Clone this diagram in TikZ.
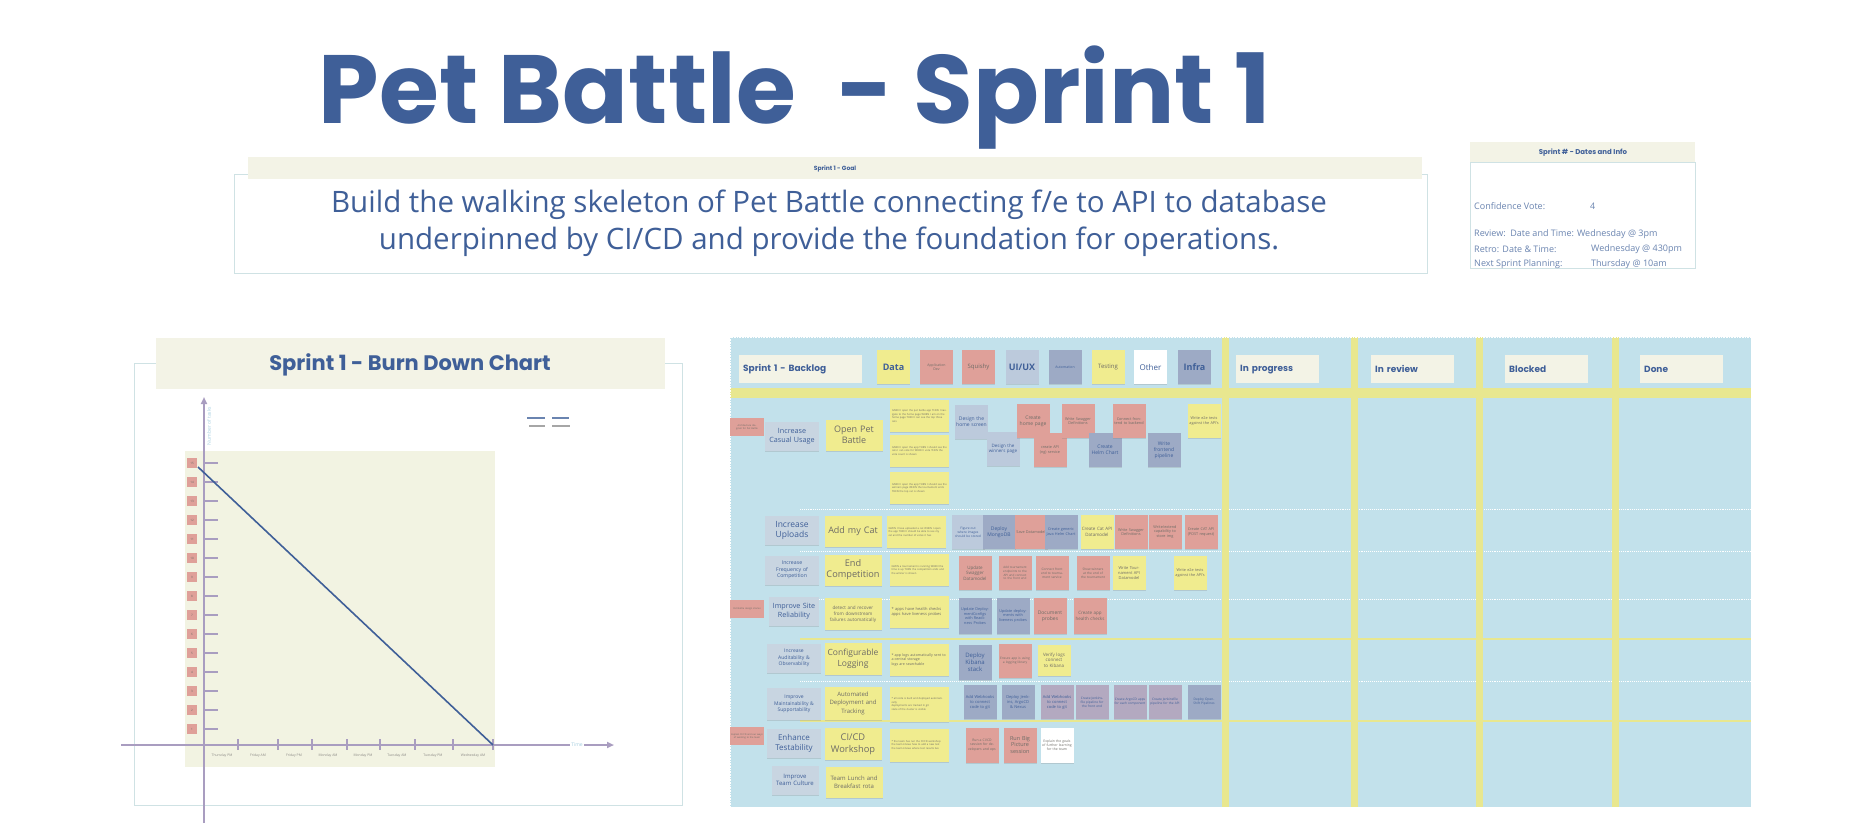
\documentclass[tikz,border=0pt]{standalone}
\usepackage{fontspec}
\setmainfont{Open Sans}
\newfontfamily\headfont{Poppins}
\usetikzlibrary{arrows.meta, shadows}
\definecolor{PBBlue}{HTML}{3F5F98}
\definecolor{PBYellow}{HTML}{F0EC8F}
\definecolor{PBPink}{HTML}{DFA099}
\definecolor{PBSlate}{HTML}{9DAAC5}
\definecolor{PBLight}{HTML}{BCCADC}
\definecolor{PBMauve}{HTML}{B3A9C0}
\definecolor{PBGoal}{HTML}{C8D5E1}
\definecolor{PBBoard}{HTML}{C2E1EB}
\definecolor{PBBand}{HTML}{E8E78F}
\definecolor{PBCream}{HTML}{F3F3E6}
\definecolor{PBPlot}{HTML}{F2F3E2}
\definecolor{PBAxis}{HTML}{A99DC0}
\definecolor{PBFrame}{HTML}{CFE2E4}
\definecolor{PBInfo}{HTML}{6A84B0}
\definecolor{PBNoteText}{HTML}{6E6C66}
\definecolor{PBAxisText}{HTML}{A6CFE0}
\newcommand{\pbfont}[2]{\fontsize{#1}{#2}\selectfont}
\tikzset{
    note/.style={
        fill=#1,
        minimum width=33pt,
        minimum height=34pt,
        inner sep=1pt,
        text width=31pt,
        align=center,
        font=\pbfont{3.8}{4.6},
        text=PBNoteText,
        drop shadow={opacity=0.25, shadow xshift=0pt, shadow yshift=-1.2pt}
    },
    note/.default=PBYellow,
    goalnote/.style={
        fill=PBGoal,
        minimum width=54pt,
        minimum height=29pt,
        inner sep=1pt,
        text width=52pt,
        align=center,
        text=PBBlue,
        drop shadow={opacity=0.25, shadow xshift=0pt, shadow yshift=-1.2pt}
    },
    featnote/.style={
        fill=PBYellow,
        minimum width=57pt,
        minimum height=31pt,
        inner sep=1pt,
        text width=55pt,
        align=center,
        text=PBNoteText,
        drop shadow={opacity=0.25, shadow xshift=0pt, shadow yshift=-1.2pt}
    },
    accnote/.style={
        fill=PBYellow,
        minimum width=59pt,
        minimum height=32pt,
        inner sep=2pt,
        text width=55pt,
        align=left,
        font=\pbfont{2.6}{3.4},
        text=PBNoteText,
        drop shadow={opacity=0.25, shadow xshift=0pt, shadow yshift=-1.2pt}
    },
    smallnote/.style={
        fill=PBPink,
        minimum width=34pt,
        minimum height=18pt,
        inner sep=1pt,
        text width=32pt,
        align=center,
        font=\pbfont{2.4}{3},
        text=PBNoteText
    },
    colhead/.style={
        fill=PBCream,
        minimum height=28pt,
        inner xsep=4pt,
        inner ysep=0pt,
        text width=75pt,
        align=left,
        anchor=north west,
        font=\headfont\bfseries\pbfont{9}{10},
        text=PBBlue
    },
    chip/.style={
        fill=#1,
        minimum width=33pt,
        minimum height=34pt,
        inner sep=1pt,
        text width=31pt,
        align=center,
        drop shadow={opacity=0.25, shadow xshift=0pt, shadow yshift=-1.2pt}
    },
    infotext/.style={
        font=\pbfont{9}{10},
        text=PBInfo,
        anchor=west,
        inner sep=0pt
    },
    axis/.style={
        PBAxis,
        line width=1.8pt
    },
    axislabel/.style={
        font=\pbfont{5}{6},
        text=PBAxisText,
        inner sep=1pt
    },
    ticklabel/.style={
        font=\pbfont{3.4}{4},
        text=PBNoteText!80,
        inner sep=0pt
    },
    ylabel/.style={
        fill=PBPink,
        minimum size=10pt,
        inner sep=0pt,
        font=\pbfont{3}{3.5},
        text=PBNoteText
    }
}
\begin{document}
\begin{tikzpicture}[x=1pt, y=-1pt]
    \useasboundingbox (0,0) rectangle (1872,827);

    % Title
    \node[font=\headfont\bfseries\pbfont{97}{110}, text=PBBlue, anchor=base] (title) at (795,123) {Pet Battle~ - Sprint 1};

    % Sprint goal
    \node[draw=PBFrame, line width=0.8pt, fill=white, minimum width=1193pt, minimum height=99pt, anchor=north west] (goalbox) at (234,174) {};
    \node[fill=PBCream, inner sep=0pt, minimum width=1174pt, minimum height=22pt, anchor=north west] (goalband) at (248,157) {};
    \node[font=\headfont\bfseries\pbfont{6}{7}, text=PBBlue] (goaltitle) at (835,169) {Sprint 1 - Goal};
    \node[font=\pbfont{29.5}{37}, text=PBBlue, align=center] (goaltext) at (829,223) {Build the walking skeleton of Pet Battle connecting f/e to API to database\\underpinned by CI/CD and provide the foundation for operations.};

    % Dates and info
    \node[draw=PBFrame, line width=0.6pt, fill=white, minimum width=225pt, minimum height=106pt, anchor=north west] (infobox) at (1470,162) {};
    \node[fill=PBCream, inner sep=0pt, minimum width=225pt, minimum height=20pt, anchor=north west] (infoband) at (1470,142) {};
    \node[font=\headfont\bfseries\pbfont{7}{8}, text=PBBlue] (infotitle) at (1583,153) {Sprint \# - Dates and Info};
    \node[infotext] (vote) at (1474,206) {Confidence Vote:};
    \node[infotext] (votenum) at (1590,206) {4};
    \node[infotext] (review) at (1474,234) {Review:\ \ Date and Time: Wednesday @ 3pm};
    \node[infotext] (retro) at (1474,249) {Retro: Date \& Time:};
    \node[infotext] (retrotime) at (1591,249) {Wednesday @ 430pm};
    \node[infotext] (next) at (1474,264) {Next Sprint Planning:};
    \node[infotext] (nexttime) at (1591,264) {Thursday @ 10am};

    % Burn down chart
    \draw[PBFrame, line width=0.8pt] (134,363) rectangle (682,805);
    \node[fill=PBCream, inner sep=0pt, minimum width=509pt, minimum height=51pt, anchor=north west] (chartband) at (156,338) {};
    \node[font=\headfont\bfseries\pbfont{21}{24}, text=PBBlue] (charttitle) at (410,365) {Sprint 1 - Burn Down Chart};
    \fill[PBPlot] (185,451) rectangle (495,767);
    \draw[axis, -{Triangle[length=7pt, width=6pt]}] (204,823) -- (204,397);
    \draw[axis, -{Triangle[length=7pt, width=6pt]}] (121,745) -- (614,745);
    \node[axislabel, fill=white] (timelabel) at (577,745) {Time};
    \node[axislabel, rotate=90] (tasklabel) at (209,426) {Number of tasks};
    \foreach \n in {1,...,15} {
        \pgfmathsetmacro{\yy}{729-19*(\n-1)}
        \draw[axis, line width=1.4pt] (204,\yy) -- (218,\yy);
        \node[ylabel] (ylab\n) at (192,\yy) {\n};
    }
    \foreach \xx in {238,278,312,347,380,415,453,493}
        \draw[axis, line width=1.4pt] (\xx,739) -- (\xx,750);
    \foreach \xx/\day [count=\i] in {222/Thursday PM, 258/Friday AM, 294/Friday PM, 328/Monday AM, 363/Monday PM, 397/Tuesday AM, 433/Tuesday PM, 473/Wednesday AM}
        \node[ticklabel] (day\i) at (\xx,756) {\day};
    \draw[PBBlue, line width=1.6pt] (198,467) -- (493,745);
    % legend
    \draw[PBInfo, line width=1.6pt] (527,418) -- (545,418) (552,418) -- (569,418);
    \draw[gray!70, line width=1.6pt] (529,426) -- (545,426) (552,426) -- (570,426);

    % Backlog board
    \fill[PBBoard] (730,337) rectangle (1751,807);
    \fill[PBBand] (730,388) rectangle (1751,398);
    \foreach \yy in {509,551,599,681}
        \draw[white, densely dotted, line width=0.9pt] (800,\yy) -- (1751,\yy);
    \foreach \yy in {639,721}
        \draw[PBBand, line width=1.2pt] (800,\yy) -- (1751,\yy);
    \foreach \xx in {1222,1351,1476,1612}
        \fill[PBBand] (\xx,337) rectangle ++(7,470);
    \draw[white, densely dotted, line width=0.6pt] (730,337) rectangle (1751,807);

    % Column headers
    \node[colhead, text width=115pt] (backlog) at (739,355) {Sprint 1 - Backlog};
    \node[colhead] (inprogress) at (1236,355) {In progress};
    \node[colhead] (inreview) at (1371,355) {In review};
    \node[colhead] (blocked) at (1505,355) {Blocked};
    \node[colhead] (done) at (1640,355) {Done};

    % Categories
    \node[chip=PBYellow, font=\bfseries\pbfont{9}{10}, text=PBBlue] (data) at (893.5,367) {Data};
    \node[chip=PBPink, font=\pbfont{3.5}{4.2}, text=PBNoteText] (appdev) at (936.5,367) {Application\\Dev};
    \node[chip=PBPink, font=\pbfont{6}{7}, text=PBNoteText] (squishy) at (978.5,367) {Squishy};
    \node[chip=PBLight, font=\bfseries\pbfont{9}{10}, text=PBBlue] (uiux) at (1022,367) {UI/UX};
    \node[chip=PBSlate, font=\pbfont{3.5}{4.2}, text=PBBlue] (automation) at (1065,367) {Automation};
    \node[chip=PBYellow, font=\pbfont{6}{7}, text=PBNoteText] (testing) at (1108,367) {Testing};
    \node[chip=white, font=\pbfont{8}{9}, text=PBBlue] (other) at (1150.5,367) {Other};
    \node[chip=PBSlate, font=\bfseries\pbfont{9}{10}, text=PBBlue] (infra) at (1194.5,367) {Infra};

    % Row 1
    \node[smallnote] (note1) at (747,427) {Architecture diagram for Pet Battle};
    \node[goalnote, font=\pbfont{7.2}{9}] (casual) at (792,436) {Increase\\Casual Usage};
    \node[featnote, font=\pbfont{9}{11}] (openpb) at (854,435) {Open Pet\\Battle};
    \node[accnote] (acc1a) at (919.5,416) {GIVEN I open the pet battle app THEN I navigate to the home page WHEN I am on the home page THEN I can see the top three cats};
    \node[accnote] (acc1b) at (919.5,451) {GIVEN I open the app THEN I should see the cats I can vote for WHEN I vote THEN the vote count is shown};
    \node[accnote] (acc1c) at (919.5,488) {GIVEN I open the app THEN I should see the winners page WHEN the tournament ends THEN the top cat is shown};
    \node[note=PBLight, text=PBBlue, font=\pbfont{5}{6}] (homescreen) at (971.5,422) {Design the home screen};
    \node[note=PBLight, text=PBBlue, font=\pbfont{4.5}{5.5}] (winners) at (1003,449) {Design the winners page};
    \node[note=PBPink, font=\pbfont{5}{6}] (homepage) at (1033,421) {Create home page};
    \node[note=PBPink] (apiservice) at (1050,450) {create API (ng) service};
    \node[note=PBPink] (swagger1) at (1078,421) {Write Swagger Definitions};
    \node[note=PBSlate, text=PBBlue, font=\pbfont{5}{6}] (helm1) at (1105,450) {Create Helm Chart};
    \node[note=PBPink] (connect) at (1129,421) {Connect frontend to backend};
    \node[note=PBSlate, text=PBBlue, font=\pbfont{5}{6}] (fepipe) at (1164,450) {Write frontend pipeline};
    \node[note] (e2e1) at (1204,421) {Write e2e tests against the API's};

    % Row 2
    \node[goalnote, font=\pbfont{8.5}{10}] (uploads) at (792,530) {Increase\\Uploads};
    \node[featnote, font=\pbfont{9}{11}] (addcat) at (853,531) {Add my Cat};
    \node[accnote] (acc2) at (916,532) {GIVEN I have uploaded a cat WHEN I open the app THEN I should be able to see my cat and the number of votes it has};
    \node[note=PBLight, text=PBBlue, font=\pbfont{3.2}{4}] (imgstore) at (968,532) {Figure out where images should be stored};
    \node[note=PBSlate, text=PBBlue, font=\pbfont{5}{6}] (mongo) at (999,532) {Deploy MongoDB};
    \node[note=PBPink] (savecat) at (1031,532) {Save Datamodel};
    \node[note=PBSlate, text=PBBlue] (helm2) at (1061,532) {Create generic Java Helm Chart};
    \node[note, font=\pbfont{4.5}{5.5}] (catmodel) at (1097,532) {Create Cat API Datamodel};
    \node[note=PBPink] (swagger2) at (1131,532) {Write Swagger Definitions};
    \node[note=PBPink] (storeimg) at (1165,532) {Write/extend capability to store img};
    \node[note=PBPink] (postcat) at (1201,532) {Create CAT API (POST request)};

    % Row 3
    \node[goalnote, font=\pbfont{5.2}{6.5}] (frequency) at (792,570) {Increase\\Frequency of\\Competition};
    \node[featnote, font=\pbfont{9.2}{11}] (endcomp) at (853,570) {End\\Competition};
    \node[accnote] (acc3) at (919,570) {GIVEN a tournament is running WHEN the time is up THEN the competition ends and the winner is shown};
    \node[note=PBPink, font=\pbfont{4.5}{5.5}] (swagger3) at (975,573) {Update Swagger Datamodel};
    \node[note=PBPink, font=\pbfont{3}{3.8}] (tourapi) at (1015,573) {Add tournament endpoints to the API and connect to the front end};
    \node[note=PBPink, font=\pbfont{3.2}{4}] (tourfe) at (1052,573) {Connect front end to tournament service};
    \node[note=PBPink, font=\pbfont{3.2}{4}] (winnerfe) at (1093,573) {Show winners at the end of the tournament};
    \node[note, font=\pbfont{4}{5}] (tourmodel) at (1129,573) {Write Tournament API Datamodel};
    \node[note] (e2e2) at (1190,573) {Write e2e tests against the API's};

    % Row 4
    \node[smallnote] (note4) at (747,609) {Pet Battle design stories};
    \node[goalnote, font=\pbfont{7.2}{9}, minimum width=50pt, text width=48pt] (reliability) at (794,611) {Improve Site\\Reliability};
    \node[featnote, font=\pbfont{4.6}{5.8}, minimum height=32pt] (detect) at (853,614) {detect and recover\\from downstream\\failures automatically};
    \node[accnote, font=\pbfont{4}{5}] (acc4) at (919,612) {* apps have health checks\\* apps have liveness probes};
    \node[note=PBSlate, text=PBBlue, minimum height=36pt] (readiness) at (975,616) {Update DeploymentConfigs with Readiness Probes};
    \node[note=PBSlate, text=PBBlue, minimum height=36pt] (liveness) at (1013,616) {Update deployments with liveness probes};
    \node[note=PBPink, font=\pbfont{5}{6}, minimum height=36pt] (probes) at (1050,616) {Document probes};
    \node[note=PBPink, font=\pbfont{4.5}{5.5}, minimum height=36pt] (health) at (1090,616) {Create app health checks};

    % Row 5
    \node[goalnote, font=\pbfont{5}{6.5}] (audit) at (794,658) {Increase\\Auditability \&\\Observability};
    \node[featnote, font=\pbfont{8.5}{10.5}, minimum height=32pt] (logging) at (853,659) {Configurable\\Logging};
    \node[accnote, font=\pbfont{3.6}{4.6}] (acc5) at (919,660) {* app logs automatically sent to a central storage\\* logs are searchable};
    \node[note=PBSlate, text=PBBlue, font=\pbfont{6}{7.2}, minimum height=35pt] (kibana) at (975,662) {Deploy Kibana stack};
    \node[note=PBPink, font=\pbfont{3.2}{4}] (loglib) at (1015,661) {Ensure app is using a logging library};
    \node[note, font=\pbfont{4.5}{5.5}, minimum height=31pt] (verifylogs) at (1054,660) {Verify logs connect to Kibana};

    % Row 6
    \node[goalnote, font=\pbfont{5}{6.5}, minimum height=32pt] (maintain) at (794,704) {Improve\\Maintainability \&\\Supportability};
    \node[featnote, font=\pbfont{6}{8.5}, minimum height=33pt] (autodeploy) at (853,703) {Automated\\Deployment and\\Tracking};
    \node[accnote, minimum height=35pt] (acc6) at (919,704) {* all code is built and deployed automatically\\* deployments are tracked in git\\* state of the cluster is visible};
    \node[note=PBSlate, text=PBBlue, font=\pbfont{4}{5}] (hook1) at (980,702) {Add Webhooks to connect code to git};
    \node[note=PBSlate, text=PBBlue, font=\pbfont{4}{5}] (jenkins) at (1018,702) {Deploy Jenkins, ArgoCD \& Nexus};
    \node[note=PBMauve, text=PBBlue, font=\pbfont{4}{5}] (hook2) at (1057,702) {Add Webhooks to connect code to git};
    \node[note=PBMauve, text=PBBlue, font=\pbfont{3.2}{4}] (fejob) at (1092,702) {Create Jenkinsfile pipeline for the front end};
    \node[note=PBMauve, text=PBBlue, font=\pbfont{3.2}{4}] (argoapps) at (1130,702) {Create ArgoCD apps for each component};
    \node[note=PBMauve, text=PBBlue, font=\pbfont{3.2}{4}] (apijob) at (1165,702) {Create Jenkinsfile pipeline for the API};
    \node[note=PBSlate, text=PBBlue, font=\pbfont{3.2}{4}] (ocppipe) at (1204,702) {Deploy OpenShift Pipelines};

    % Row 7
    \node[smallnote] (note7) at (747,736) {Explain CI/CD and our ways of working to the team};
    \node[goalnote, font=\pbfont{8}{10}] (testability) at (794,743) {Enhance\\Testability};
    \node[featnote, font=\pbfont{9.3}{12}, minimum height=32pt] (cicd) at (853,744) {CI/CD\\Workshop};
    \node[accnote, minimum height=33pt] (acc7) at (919,745) {* the team has run the CI/CD workshop\\* the team knows how to add a new test\\* the team knows where test results live};
    \node[note=PBPink, font=\pbfont{3.4}{4.2}, minimum height=35pt] (abtest) at (982,745) {Run a CI/CD session for developers and ops};
    \node[note=PBPink, font=\pbfont{5.5}{6.6}, minimum height=35pt] (bigpicture) at (1020,745) {Run Big Picture session};
    \node[note=white, font=\pbfont{3.4}{4.2}, minimum height=35pt] (learning) at (1057,745) {Explain the goals of further learning for the team};

    % Row 8
    \node[goalnote, font=\pbfont{6}{7.5}, minimum width=47pt, text width=45pt] (culture) at (795,780) {Improve\\Team Culture};
    \node[featnote, font=\pbfont{6}{8.5}] (lunch) at (854,782) {Team Lunch and\\Breakfast rota};
\end{tikzpicture}
\end{document}
